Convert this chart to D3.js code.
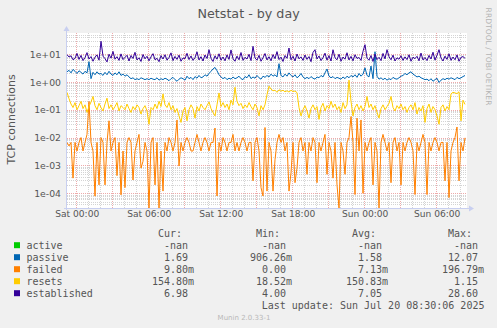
<!DOCTYPE html>
<html><head><meta charset="utf-8">
<script src="https://cdn.jsdelivr.net/npm/d3@7"></script>
<style>
html,body{margin:0;padding:0;background:#f0f0f0;}
svg{display:block;}
text{white-space:pre;}
</style></head><body>
<svg id="c" width="497" height="328"></svg>
<script>
// ---------- data ----------
const chartTitle = "Netstat - by day";
const yAxisTitle = "TCP connections";
const sideText = "RRDTOOL / TOBI OETIKER";
const footerText = "Munin 2.0.33-1";
const lastUpdate = "Last update: Sun Jul 20 08:30:06 2025";

const seriesNames  = ["active", "passive", "failed", "resets", "established"];
const seriesColors = ["#00CC00", "#0066B3", "#FF8000", "#FFCC00", "#330099"];
const curValues = ["-nan", "1.69", "9.80m", "154.80m", "6.98"];
const minValues = ["-nan", "906.26m", "0.00", "18.52m", "4.00"];
const avgValues = ["-nan", "1.58", "7.13m", "150.83m", "7.05"];
const maxValues = ["-nan", "12.07", "196.79m", "1.15", "28.60"];
const columnHeads = ["Cur:", "Min:", "Avg:", "Max:"];

const yTickValues = [1e1, 1e0, 1e-1, 1e-2, 1e-3, 1e-4];
const yTickLabels = ["1e+01", "1e+00", "1e-01", "1e-02", "1e-03", "1e-04"];
const xTickLabels = ["Sat 00:00", "Sat 06:00", "Sat 12:00", "Sat 18:00", "Sun 00:00", "Sun 06:00"];
const xTickTimes = [
  Date.UTC(2025,6,19,0), Date.UTC(2025,6,19,6), Date.UTC(2025,6,19,12),
  Date.UTC(2025,6,19,18), Date.UTC(2025,6,20,0), Date.UTC(2025,6,20,6)];

const viewStart = Date.UTC(2025,6,18,23,16,30);
const viewEnd   = Date.UTC(2025,6,20,8,36,30);
const dataStart = Date.UTC(2025,6,18,23,16,30);
const stepMinutes = 10;
const yDomain = [2.965e-5, 56.75];

const active = [];
const passive = [
 2.3,2.6,2.1,2.8,2.4,2.0,2.5,2.2,1.9,2.4,
 2.1,5.3,1.3,2.2,1.8,2.3,1.9,2.0,1.7,2.2,
 1.8,2.4,1.9,1.7,2.1,1.8,2.3,1.7,1.9,1.6,
 1.8,1.5,1.3,1.4,1.2,1.3,1.2,1.4,1.3,1.2,
 1.3,1.2,1.35,1.25,1.2,1.4,1.15,1.3,1.2,1.35,
 1.25,1.1,1.3,1.45,1.2,1.05,1.25,1.4,1.3,1.15,
 1.6,1.3,1.45,1.2,1.55,1.35,1.7,1.4,1.5,1.8,
 1.6,2.0,2.4,2.9,3.3,2.5,1.8,1.5,1.3,1.45,
 1.2,1.35,1.25,1.5,1.3,1.4,1.6,1.3,1.2,1.55,
 1.4,1.8,1.3,1.5,1.35,1.7,1.4,1.25,1.6,1.45,
 1.7,1.5,1.9,1.6,1.8,1.5,4.5,1.7,1.5,1.9,
 1.6,2.1,1.7,1.5,1.8,1.4,1.6,2.0,1.5,1.3,
 1.45,1.3,1.55,1.35,1.25,1.5,1.4,1.7,1.5,2.1,
 2.9,1.6,1.4,1.55,1.3,1.45,1.35,1.25,1.5,1.3,
 1.6,1.4,1.7,1.5,1.8,1.45,2.0,1.6,1.9,3.2,
 1.7,1.5,3.7,1.3,12.07,1.6,1.25,1.4,1.2,1.35,
 1.15,1.3,1.2,1.45,1.3,1.25,1.4,1.6,1.7,2.0,
 1.8,2.1,2.3,1.9,1.7,1.5,1.6,1.4,1.3,1.2,
 1.25,1.1,1.3,1.05,1.2,1.35,0.95,1.15,1.3,1.2,
 1.35,1.25,1.4,1.3,1.2,1.45,1.3,1.4,1.55,1.69];
const failed = [
 0.0067,0.005,0.0067,0.00035,0.0067,0.0033,0.0067,0.01,0.0033,0.0067,
 0.013,0.197,0.0067,0.0033,0.000079,0.0067,0.0002,0.01,0.0067,0.0002,
 0.0067,0.04,0.0033,0.0067,0.01,0.00043,0.0067,0.000088,0.0033,0.00016,
 0.0067,0.01,0.0067,0.0003,0.0033,0.0067,0.013,0.0008,0.0014,0.0067,
 0.0033,0,0.0067,0.01,0.0002,0.0067,0,0.0033,0.00012,0.0067,
 0.0033,0.01,0.0067,0.0033,0.0067,0.043,0.00095,0.0067,0.0033,0.0067,
 0.01,0.0067,0.0033,0.0033,0.0067,0.013,0.0067,0.0033,0.0067,0.01,
 0.0067,0.0033,0.0067,0.0067,0.022,0.00008,0.0067,0.0033,0.01,0.0067,
 0.0033,0.0067,0.0067,0.013,0.0033,0.0067,0.0033,0.0067,0.01,0.0067,
 0.0033,0.0067,0.0067,0.00028,0.0067,0.01,0.0033,0.00016,0.00008,0.023,
 0.00012,0.0067,0.0033,0.00012,0.0016,0.0067,0.013,0.0067,0.01,0.0033,
 0.0067,0.00012,0.00055,0.0067,0.00024,0.0008,0.0067,0.01,0.0033,0.0067,
 0.00048,0.0067,0.0033,0.01,0.0067,0.00024,0.0067,0.0033,0.0067,0.013,
 0.00048,0.0067,0.0033,0.00035,0.0067,0.0002,0,0.0067,0.0033,0.00048,
 0.0067,0.01,0.057,0.0067,0.00009,0.05,0.0033,0.043,0.0001,0.0067,
 0.0033,0.0067,0.01,0.0002,0.0067,0.0033,0,0.0067,0.013,0.0067,
 0.0033,0.0067,0.00024,0.0067,0.01,0.0033,0.0067,0.0002,0.0067,0.0033,
 0.0067,0.01,0.0067,0.0033,0.00009,0.0067,0.0033,0.0067,0.013,0.0067,
 0.00009,0.0067,0.0033,0.0067,0.01,0.0067,0.0033,0.0067,0.0067,0.00028,
 0.0067,0.00007,0.0033,0.0067,0.01,0.024,0.00028,0.0067,0.0033,0.0098];
const resets = [
 0.42,0.25,0.16,0.12,0.18,0.1,0.14,0.2,0.11,0.15,
 0.08,0.13,0.19,0.3,0.14,0.1,0.17,0.12,0.09,0.16,
 0.26,0.11,0.15,0.1,0.13,0.18,0.09,0.14,0.12,0.1,
 0.16,0.11,0.08,0.13,0.1,0.15,0.12,0.07,0.11,0.14,
 0.09,0.03,0.12,0.1,0.16,0.11,0.2,0.13,0.37,0.15,
 0.12,0.18,0.1,0.14,0.08,0.11,0.06,0.035,0.09,0.12,
 0.04,0.1,0.15,0.11,0.05,0.13,0.09,0.16,0.12,0.1,
 0.14,0.19,0.11,0.08,0.06,0.15,0.4,0.13,0.18,0.12,
 0.16,0.1,0.22,0.15,0.64,0.2,0.14,0.17,0.11,0.15,
 0.12,0.18,0.13,0.1,0.16,0.12,0.06,0.14,0.1,0.15,
 0.35,0.7,0.55,0.48,0.5,0.42,0.52,0.46,0.5,0.44,
 0.48,0.43,0.5,0.45,0.47,0.41,0.12,0.06,0.1,0.14,
 0.09,0.05,0.11,0.15,0.1,0.13,0.045,0.12,0.17,0.09,
 0.14,0.11,0.2,0.12,0.16,0.1,0.13,0.08,0.18,0.11,
 0.15,1.15,0.2,0.06,0.12,0.16,0.1,0.14,0.09,0.13,
 0.3,0.12,0.16,0.1,0.14,0.08,0.05,0.11,0.15,0.1,
 0.13,0.17,0.3,0.12,0.09,0.14,0.11,0.16,0.1,0.13,
 0.08,0.12,0.15,0.1,0.18,0.07,0.12,0.09,0.14,0.035,
 0.11,0.16,0.08,0.13,0.1,0.06,0.03,0.12,0.15,0.09,
 0.13,0.1,0.37,0.42,0.4,0.38,0.44,0.04,0.22,0.155];
const established = [
 9.5,7.8,8.6,6.2,7.0,10.5,6.4,8.9,5.8,7.4,
 11.2,6.6,8.1,5.5,7.7,9.3,6.0,28.6,8.4,6.8,
 5.2,9.8,7.1,12.4,6.5,8.0,5.9,10.1,6.3,7.6,
 9.0,5.6,8.8,6.9,11.5,6.1,7.3,5.4,9.6,6.7,
 8.3,5.7,7.9,10.3,6.2,7.0,5.3,8.7,6.6,9.4,
 6.0,7.5,11.0,5.8,8.2,6.4,9.1,5.5,7.2,6.8,
 10.6,6.3,8.5,5.9,7.4,12.0,6.1,8.0,5.6,9.2,
 6.9,14.3,7.0,5.4,8.6,6.5,10.2,6.0,7.8,5.7,
 9.3,6.4,14.0,6.8,5.5,8.4,6.2,11.3,5.9,7.6,
 6.6,9.7,5.8,18.9,7.2,6.0,8.9,5.5,7.3,10.4,
 6.1,8.0,5.7,9.5,6.8,12.2,6.3,7.7,5.4,8.8,
 7.0,16.4,6.2,8.3,5.6,10.0,6.7,7.9,5.9,9.2,
 6.4,8.1,5.3,11.4,14.3,6.6,8.5,5.8,7.4,10.7,
 6.0,8.7,5.6,14.2,7.3,6.2,9.8,5.5,7.8,6.5,
 11.1,6.1,8.2,5.7,9.4,6.9,7.5,5.9,12.5,21.6,
 7.1,6.0,8.8,5.4,9.9,6.3,7.6,5.8,10.5,6.7,
 14.3,8.0,6.2,9.1,5.6,7.3,6.5,8.6,5.9,7.9,
 6.3,9.4,5.5,7.7,6.8,8.3,5.7,10.8,6.1,7.5,
 5.8,8.9,6.6,11.6,6.0,9.0,14.3,7.2,5.6,8.4,
 6.4,10.2,5.9,7.8,6.2,9.3,5.5,7.6,8.1,6.98];

// ---------- layout ----------
const W = 497, H = 328;
const plot = {left: 67, right: 467, top: 33, bottom: 208};
const axisColor = "#c8cff0";
const minorGrid = "#d4d4d4";
const majorGrid = "#eeaaaa";
const textColor = "#555555";
const monoFont = "'DejaVu Sans Mono', monospace";
const sansFont = "'DejaVu Sans', sans-serif";

const svg = d3.select("#c");
svg.append("rect").attr("width", W).attr("height", H).attr("fill", "#f0f0f0");

const x = d3.scaleUtc().domain([new Date(viewStart), new Date(viewEnd)]).range([plot.left, plot.right]);
const y = d3.scaleLog().domain(yDomain).range([plot.bottom, plot.top]);

svg.append("rect").attr("x", plot.left).attr("y", plot.top)
  .attr("width", plot.right - plot.left).attr("height", plot.bottom - plot.top)
  .attr("fill", "#ffffff");

// ---------- grid ----------
const gridG = svg.append("g").attr("shape-rendering", "crispEdges");
// minor horizontal
const minorY = [];
for (let e = -5; e <= 1; e++) for (let m = 2; m <= 9; m++) {
  const v = m * Math.pow(10, e);
  if (v > yDomain[0] && v < yDomain[1]) minorY.push(v);
}
gridG.append("g").attr("transform", `translate(${plot.left},0)`)
  .call(d3.axisLeft(y).tickValues(minorY).tickSize(-(plot.right - plot.left)).tickFormat(""))
  .call(g => g.select(".domain").remove())
  .call(g => g.selectAll("line").attr("stroke", minorGrid).attr("stroke-dasharray", "1,1"));
// minor vertical (hourly)
const hours = d3.utcHour.range(new Date(viewStart), new Date(viewEnd));
gridG.append("g").attr("transform", `translate(0,${plot.bottom})`)
  .call(d3.axisBottom(x).tickValues(hours.filter(h => h.getUTCHours() % 3 !== 0)).tickSize(-(plot.bottom - plot.top)).tickFormat(""))
  .call(g => g.select(".domain").remove())
  .call(g => g.selectAll("line").attr("stroke", minorGrid).attr("stroke-dasharray", "1,1"));
// major horizontal
gridG.append("g").attr("transform", `translate(${plot.left},0)`)
  .call(d3.axisLeft(y).tickValues(yTickValues).tickSize(-(plot.right - plot.left)).tickFormat(""))
  .call(g => g.select(".domain").remove())
  .call(g => g.selectAll("line").attr("stroke", majorGrid).attr("stroke-dasharray", "1,1"));
// major vertical (3-hourly)
gridG.append("g").attr("transform", `translate(0,${plot.bottom})`)
  .call(d3.axisBottom(x).tickValues(hours.filter(h => h.getUTCHours() % 3 === 0)).tickSize(-(plot.bottom - plot.top)).tickFormat(""))
  .call(g => g.select(".domain").remove())
  .call(g => g.selectAll("line").attr("stroke", majorGrid).attr("stroke-dasharray", "1,1"));

// ---------- lines ----------
svg.append("clipPath").attr("id", "clip").append("rect")
  .attr("x", plot.left).attr("y", plot.top - 1)
  .attr("width", plot.right - plot.left).attr("height", plot.bottom - plot.top + 1);
const seriesData = [active, passive, failed, resets, established];
const line = d3.line()
  .x((d, i) => x(new Date(dataStart + i * stepMinutes * 60000)))
  .y(d => d > 0 ? Math.min(y(d), plot.bottom) : plot.bottom);
const linesG = svg.append("g").attr("clip-path", "url(#clip)");
seriesData.forEach((arr, k) => {
  if (!arr.length) return;
  linesG.append("path").datum(arr).attr("d", line)
    .attr("fill", "none").attr("stroke", seriesColors[k]).attr("stroke-width", 1)
    .attr("stroke-linejoin", "miter");
});

// ---------- axes ----------
const axG = svg.append("g");
axG.append("line").attr("x1", plot.left - 0.5).attr("x2", plot.left - 0.5)
  .attr("y1", plot.bottom + 2).attr("y2", plot.top - 5).attr("stroke", axisColor);
axG.append("path").attr("d", `M${plot.left - 3.5},${plot.top - 2} L${plot.left - 0.5},${plot.top - 7} L${plot.left + 2.5},${plot.top - 2} Z`).attr("fill", axisColor);
axG.append("line").attr("x1", plot.left - 3).attr("x2", plot.right + 4)
  .attr("y1", plot.bottom + 0.5).attr("y2", plot.bottom + 0.5).attr("stroke", axisColor);
axG.append("path").attr("d", `M${plot.right + 2},${plot.bottom - 2.5} L${plot.right + 7},${plot.bottom + 0.5} L${plot.right + 2},${plot.bottom + 3.5} Z`).attr("fill", axisColor);

// y tick labels
svg.append("g").attr("transform", `translate(${plot.left - 6},0)`)
  .call(d3.axisLeft(y).tickValues(yTickValues).tickSize(0).tickPadding(0)
    .tickFormat((d, i) => yTickLabels[i]))
  .call(g => g.select(".domain").remove())
  .call(g => g.selectAll("text").attr("font-family", sansFont).attr("font-size", "9.3px")
    .attr("fill", textColor).attr("dy", "0.35em"));
// x tick labels
svg.append("g").attr("transform", `translate(1,${plot.bottom + 3})`)
  .call(d3.axisBottom(x).tickValues(xTickTimes.map(t => new Date(t))).tickSize(0).tickPadding(0)
    .tickFormat((d, i) => xTickLabels[i]))
  .call(g => g.select(".domain").remove())
  .call(g => g.selectAll("text").attr("font-family", sansFont).attr("font-size", "9.1px")
    .attr("fill", textColor).attr("dy", "0.71em"));

// ---------- titles ----------
svg.append("text").attr("x", 248.6).attr("y", 17.5).attr("text-anchor", "middle")
  .attr("font-family", sansFont).attr("font-size", "12.7px").attr("fill", textColor).text(chartTitle);
svg.append("text").attr("transform", `translate(15,${(plot.top + plot.bottom) / 2 - 1}) rotate(-90)`)
  .attr("text-anchor", "middle").attr("font-family", sansFont).attr("font-size", "11px")
  .attr("fill", textColor).text(yAxisTitle);
svg.append("text").attr("transform", `translate(485.5,56.5) rotate(90)`)
  .attr("text-anchor", "middle").attr("font-family", sansFont).attr("font-size", "7.6px")
  .attr("fill", "#b4b4b4").text(sideText);
svg.append("text").attr("x", 244).attr("y", 319.5).attr("text-anchor", "middle")
  .attr("font-family", sansFont).attr("font-size", "7px").attr("fill", "#b8b8b8").text(footerText);

// ---------- legend ----------
const colX = [152, 250, 346, 442];
const baseY = 249.2, rowH = 12;
const fmt = s => {
  let num = s, suf = " ";
  if (s.endsWith("m")) { num = s.slice(0, -1); suf = "m"; }
  return num.padStart(6, " ") + suf;
};
const legG = svg.append("g").attr("font-family", monoFont).attr("font-size", "10px").attr("fill", textColor);
columnHeads.forEach((h, j) => {
  legG.append("text").attr("x", colX[j] + 6).attr("y", baseY - rowH).text(h);
});
const cols = [curValues, minValues, avgValues, maxValues];
seriesNames.forEach((name, k) => {
  const yy = baseY + k * rowH;
  svg.append("rect").attr("x", 14).attr("y", yy - 7).attr("width", 6).attr("height", 6)
    .attr("fill", seriesColors[k]);
  legG.append("text").attr("x", 26.5).attr("y", yy).text(name);
  cols.forEach((c, j) => {
    legG.append("text").attr("x", colX[j]).attr("y", yy).text(fmt(c[k]));
  });
});
legG.append("text").attr("x", 261.7).attr("y", baseY + 5 * rowH).text(lastUpdate);
</script>
</body></html>
